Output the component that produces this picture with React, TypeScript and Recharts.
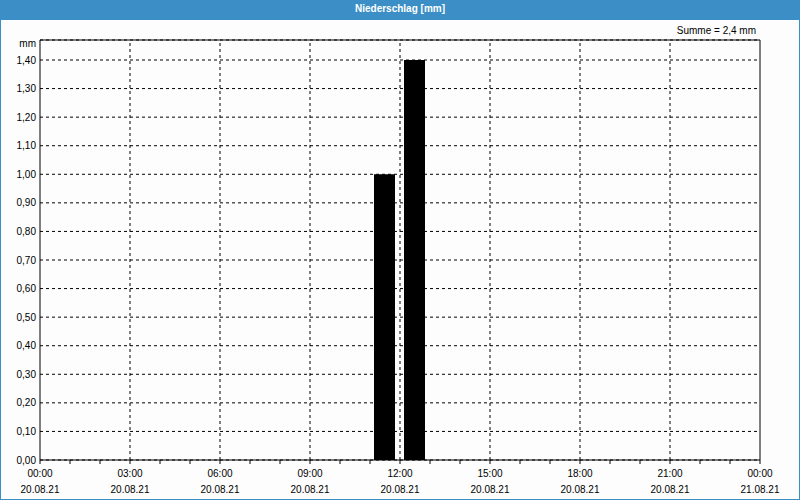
import React from "react";
import {
  BarChart,
  Bar,
  XAxis,
  YAxis,
  CartesianGrid,
  ReferenceLine,
} from "recharts";

// hourly precipitation sums for 20.08.21 (value belongs to the hour starting at index)
const hourlyRain = [
  0, 0, 0, 0, 0, 0, 0, 0, 0, 0, 0, 1.0,
  1.4, 0, 0, 0, 0, 0, 0, 0, 0, 0, 0, 0,
];
const yTicks = [0, 0.1, 0.2, 0.3, 0.4, 0.5, 0.6, 0.7, 0.8, 0.9, 1.0, 1.1, 1.2, 1.3, 1.4];
const yMax = 1.47;
const xTicks = Array.from({ length: 25 }, (_, i) => i);
const gridHours = [3, 6, 9, 12, 15, 18, 21];
const startDate = "20.08.21";
const endDate = "21.08.21";
const total = "2,4";

const data = hourlyRain.map((v, i) => ({ hour: i + 0.5, rain: v }));

const FONT = "'Liberation Sans', Arial, sans-serif";
const BLUE = "#3c8fc6";

const fmtY = (v: number) => v.toFixed(2).replace(".", ",");

// y arrives at the axis line (tickSize/tickMargin are 0)
function HourTick(props: any) {
  const { x, y, payload } = props;
  const h = payload.value as number;
  const major = h % 3 === 0;
  const time = `${String(h % 24).padStart(2, "0")}:00`;
  const date = h === 24 ? endDate : startDate;
  return (
    <g>
      <line x1={x} y1={y} x2={x} y2={y + 4} stroke="#000" />
      {major && (
        <text x={x} y={y + 17} textAnchor="middle" fontSize={10} fontFamily={FONT} fill="#000">
          <tspan x={x} dy={0}>{time}</tspan>
          <tspan x={x} dy={16}>{date}</tspan>
        </text>
      )}
    </g>
  );
}

export default function App() {
  return (
    <div
      style={{
        position: "absolute",
        left: 0,
        top: 0,
        width: 800,
        height: 500,
        background: "#fcfdfc",
        fontFamily: FONT,
      }}
    >
      <div style={{ position: "absolute", left: 0, top: 0 }}>
        <BarChart
          width={800}
          height={500}
          data={data}
          margin={{ top: 40, right: 40, bottom: 0, left: 0 }}
        >
          <CartesianGrid vertical={false} stroke="#000" strokeDasharray="3 3" />
          {gridHours.map((h) => (
            <ReferenceLine key={h} x={h} stroke="#000" strokeDasharray="3 3" />
          ))}
          <ReferenceLine y={yMax} stroke="#000" />
          <ReferenceLine x={24} stroke="#000" />
          <XAxis
            dataKey="hour"
            type="number"
            domain={[0, 24]}
            ticks={xTicks}
            interval={0}
            height={40}
            axisLine={{ stroke: "#000" }}
            tickLine={false}
            tickSize={0}
            tickMargin={0}
            tick={<HourTick />}
          />
          <YAxis
            type="number"
            domain={[0, yMax]}
            ticks={yTicks}
            interval={0}
            width={40}
            tickFormatter={fmtY}
            axisLine={{ stroke: "#000" }}
            tickLine={false}
            tickSize={0}
            tickMargin={4}
            tick={{ fontSize: 10, fill: "#000", fontFamily: FONT }}
          />
          <Bar dataKey="rain" fill="#000" barSize={21} isAnimationActive={false} />
        </BarChart>
      </div>
      <div
        style={{
          position: "absolute",
          left: 0,
          top: 0,
          width: 800,
          height: 20,
          background: BLUE,
          color: "#fff",
          fontSize: 10,
          fontWeight: "bold",
          lineHeight: "18px",
          textAlign: "center",
        }}
      >
        Niederschlag [mm]
      </div>
      <div style={{ position: "absolute", right: 44, top: 25, fontSize: 10, color: "#000" }}>
        Summe = {total} mm
      </div>
      <div style={{ position: "absolute", right: 764, top: 38, fontSize: 10, color: "#000" }}>
        mm
      </div>
      <div
        style={{
          position: "absolute",
          left: 0,
          top: 0,
          width: 800,
          height: 500,
          boxSizing: "border-box",
          border: `1px solid ${BLUE}`,
          pointerEvents: "none",
        }}
      />
    </div>
  );
}
